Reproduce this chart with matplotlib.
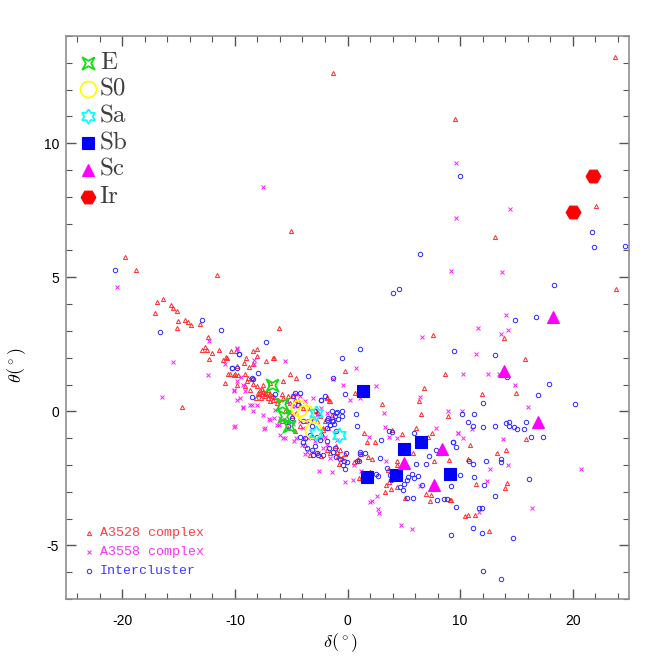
# 은하 형태별 delta-theta 분포
import numpy as np
import matplotlib
matplotlib.use('Agg')
import matplotlib.pyplot as plt
from matplotlib.path import Path
from matplotlib.ticker import MultipleLocator

plt.rcParams['axes.unicode_minus'] = False
plt.rcParams['mathtext.fontset'] = 'cm'

# 배경 점: A3528 complex (delta, theta)
a3528 = [
    (-1.33, 12.62), (-5.03, 6.72), (-19.79, 5.75), (-18.76, 5.27), (-11.6, 5.1), (-16.39, 4.19),
    (9.52, 10.9), (7.63, 2.84), (23.78, 13.22), (22.09, 7.66), (13.13, 6.52), (23.87, 4.56),
    (13.93, 2.72), (15.76, 1.97), (8.63, 1.38), (11.95, 0.66), (14.93, 0.69), (8.96, -0.19),
    (15.85, -1.04), (10.88, -1.25), (13.27, -1.57), (14.07, -1.46), (9.05, -1.81), (10.7, -1.79),
    (11.41, -2.71), (14.2, -2.67), (13.96, -2.87), (9.19, -3.3), (10.41, -3.9), (10.7, -3.86),
    (11.36, -3.87), (12.54, -4.45),
    (6.12, -0.63), (3.96, -0.7), (4.84, -0.84), (2.45, -1.16), (1.69, -1.16), (1.45, -0.81),
    (7.48, -0.82), (7.15, -0.95), (5.82, -1.57), (7.69, -1.87), (4.4, -2.0), (3.6, -2.17),
    (4.4, -2.84), (3.87, -2.91), (3.34, -3.0), (3.46, -2.75), (5.11, -3.22), (6.95, -3.07),
    (7.45, -3.12), (7.36, -3.35), (9.14, -3.29), (1.03, -2.47), (0.56, -1.9), (0.94, -1.77),
    (1.24, -1.6), (1.8, -1.7), (2.22, -1.77), (2.04, -2.25), (3.69, -2.62), (4.43, -1.84),
    (-1.86, -1.44), (-1.57, -1.56), (-0.92, -1.5), (-0.77, -1.97), (-2.37, -1.65), (-3.35, -1.62),
    (-3.79, -1.25), (-3.05, -0.94), (-0.98, -1.31), (-0.18, -1.6),
    (-0.18, 1.52), (6.83, 0.87), (-1.81, 0.52), (-1.66, 0.4), (6.33, 0.37), (3.1, 0.26),
    (6.57, -0.11), (0.65, 0.69), (-0.68, -1.44), (-0.83, -1.65), (-0.53, -1.75),
    (-16.89, 4.07), (-17.07, 3.67), (-15.65, 3.95), (-15.53, 3.85), (-15.12, 3.75), (-15.03, 3.37),
    (-15.12, 3.1), (-14.46, 3.4), (-14.17, 3.34), (-13.88, 3.21), (-13.11, 3.24), (-12.42, 2.76),
    (-12.64, 2.41), (-12.96, 2.29), (-12.46, 2.29), (-12.07, 2.16), (-12.33, 1.94), (-11.45, 2.3),
    (-10.38, 2.24), (-9.05, 1.98), (-8.43, 2.24), (-8.02, 2.32), (-11.09, 1.9), (-10.68, 2.0),
    (-10.8, 2.02), (-9.8, 1.68), (-9.2, 1.79), (-8.78, 1.66), (-8.38, 1.75), (-10.65, 1.4),
    (-10.44, 1.38), (-10.09, 1.35), (-9.7, 1.34), (-10.86, 1.06),
    (-14.73, 0.15), (-6.07, 3.12), (-6.54, 1.98), (-5.12, 1.4), (-4.53, 1.25), (-8.14, 0.48),
    (-7.84, 0.63), (-7.25, 0.63), (-7.49, 0.72), (-8.96, 1.12), (-8.52, 1.19), (-9.11, 0.94),
    (-8.67, 0.81),
    (-6.89, 0.63), (-6.54, 0.52), (-6.16, 0.44), (-5.86, 0.63), (-5.71, 0.48), (-5.27, 0.56),
    (-5.41, 0.37), (-5.12, 0.31), (-4.88, 0.56), (-4.68, 0.44), (-4.38, 0.37), (-4.23, 0.22),
    (-3.94, 0.12), (-3.35, 0.12), (-2.9, 0.06), (-2.61, -0.06), (-2.4, -0.19), (-2.01, -0.37),
    (-1.72, -0.63), (-2.22, -0.69), (-2.75, -0.37),
    (-9.91, 2.25), (-8.02, 2.06), (-7.25, 1.87), (-6.6, 2.0), (-10.0, 1.38), (-9.85, 1.0),
    (-9.11, 1.38), (-8.82, 1.25), (-8.38, 1.02), (-8.07, 0.94), (-7.78, 0.81), (-7.93, 0.69),
    (-7.63, 0.63), (-7.34, 0.56), (-7.05, 0.5), (-6.89, 0.37), (-6.6, 0.44), (-6.3, 0.31),
    (-7.49, 1.0), (-6.89, 1.06), (-6.74, 0.56), (-5.71, 1.12), (-5.56, 0.0), (-4.97, -0.19),
    (-4.53, -0.06), (-5.86, -0.37), (-5.27, -0.63), (-4.68, -0.75), (-4.23, -0.56), (-3.64, -0.37),
    (-1.86, 0.5), (-1.57, 0.37), (-1.42, -0.12), (-2.17, -0.63),
    (-7.6, 0.85), (-7.3, 0.7), (-7.1, 0.8), (-6.95, 0.6), (-7.7, 0.5),
]

# 배경 점: A3558 complex
a3558 = [
    (-7.54, 8.35), (-20.44, 4.64), (9.61, 9.26), (9.61, 7.23), (9.17, 5.25), (11.59, 3.1),
    (6.62, 2.77), (14.4, 7.56), (13.72, 5.21), (14.1, 3.6), (14.25, 3.05),
    (13.63, 2.87), (11.38, 2.12), (10.26, 1.4), (12.51, 1.38), (14.84, 0.97), (16.0, 0.18),
    (8.93, 0.03), (10.17, 0.0), (11.03, -0.65), (9.82, -0.8), (10.26, -0.99), (13.78, -1.02),
    (14.25, -2.0), (20.73, -2.14), (12.63, -2.16), (12.42, -2.61), (11.68, -3.77), (16.42, -3.59),
    (7.84, -0.61), (3.34, -0.57), (4.4, -0.99), (3.73, -0.97), (1.92, -0.97), (9.85, -0.79),
    (2.63, -3.16), (2.16, -3.34), (1.98, -3.38), (2.72, -3.64), (2.83, -3.79), (4.76, -4.25),
    (5.77, -4.4), (6.48, -2.77), (-2.52, -2.22), (-1.42, -2.26), (-0.21, -2.65), (0.5, -2.56),
    (1.21, -2.21), (0.56, -2.0), (3.46, -1.87), (-5.56, -1.0), (-6.07, -0.52), (-7.43, -0.65),
    (-4.74, -1.1), (-3.79, -1.6), (-3.05, -1.5), (-1.57, -1.75), (-0.92, -1.06), (-2.01, -0.94),
    (-6.0, -0.87),
    (0.74, 1.6), (-0.39, 1.0), (-1.28, 1.21), (13.45, 1.38), (2.51, 0.96), (1.09, 0.48),
    (0.2, 0.42), (6.42, 0.52), (3.22, -0.05),
    (-12.28, 2.64), (-15.5, 1.83), (-9.85, 2.34), (-8.29, 1.9), (-10.89, 1.75), (-12.37, 1.36),
    (-9.49, 1.27), (-9.85, 1.12), (-9.32, 0.97), (-10.09, 0.78), (-16.45, 0.52), (-9.8, 0.41),
    (-5.54, 1.87), (-10.06, -0.59), (-6.3, -0.52), (-6.96, -0.27), (-6.54, -0.25), (-9.32, 0.15),
    (-8.49, 0.22), (-8.02, 0.22), (-9.11, 0.74),
    (-4.53, 0.65), (-4.23, 0.56), (-3.79, 0.37), (-4.68, 0.19), (-5.12, -0.06), (-5.65, -0.27),
    (-5.41, -0.44), (-4.83, -0.48), (-4.23, -0.37), (-3.64, -0.37), (-3.19, -0.25), (-2.75, -0.12),
    (-2.31, 0.12), (-1.86, -0.06), (-1.57, -0.25), (-3.94, -0.63), (-3.5, -1.0), (-2.9, -1.12),
    (-2.31, -1.0), (-1.86, -1.25), (-2.17, -1.38), (-2.61, -1.56), (-3.64, -1.5), (-4.08, -1.25),
    (-4.53, -1.0),
    (-9.8, 2.35), (-8.31, 1.75), (-10.09, 0.75), (-9.56, 0.5), (-9.26, 0.12), (-8.67, 0.25),
    (-8.38, 0.0), (-10.0, -0.56), (-7.34, -0.63), (-7.49, -0.12), (-6.89, -0.31), (-6.45, 0.06),
    (-6.0, -0.25), (-5.41, 0.37), (-4.97, 0.19), (-3.05, 0.5), (-5.71, -1.0), (-3.88, -1.0),
]

# 배경 점: Intercluster
inter = [
    (-20.65, 5.26), (6.42, 5.88), (4.05, 4.4), (4.61, 4.56), (9.96, 8.78), (21.68, 6.68),
    (21.85, 6.12), (24.63, 6.18), (18.37, 4.71), (14.84, 3.42), (16.77, 3.53),
    (9.46, 2.25), (13.13, 2.09), (14.13, 1.27), (17.92, 1.02), (16.91, 0.6), (12.0, 0.31),
    (20.17, 0.27), (11.21, -0.11), (10.74, -0.41), (11.12, -0.55), (12.07, -0.6), (14.07, -0.45),
    (14.31, -0.4), (14.34, -0.56), (14.76, -0.6), (15.02, -0.65), (15.64, -0.65), (15.82, -0.39),
    (16.26, -0.95), (17.33, -0.94), (9.4, -1.16), (9.67, -1.32), (10.76, -1.84), (11.18, -1.95),
    (12.27, -1.87), (13.66, -1.76), (13.66, -1.9), (10.03, -2.36), (11.21, -2.45), (9.23, -2.77),
    (12.16, -2.74), (16.12, -2.54), (8.55, -3.27), (8.84, -3.27), (9.64, -3.55), (13.07, -3.15),
    (11.68, -3.6), (11.94, -3.6), (11.12, -4.37), (9.17, -4.61), (11.98, -4.52), (14.7, -4.71),
    (12.03, -5.97), (13.6, -6.27),
    (0.8, -0.55), (5.94, -0.82), (2.98, -1.06), (9.37, -1.15), (7.9, -1.45), (7.24, -1.65),
    (7.01, -1.97), (6.06, -1.97), (5.71, -2.35), (5.88, -2.5), (5.41, -2.45), (5.24, -2.57),
    (5.02, -2.7), (6.27, -2.41), (6.59, -2.75), (4.7, -2.82), (4.94, -2.95), (5.32, -3.25),
    (5.82, -3.22), (7.92, -3.29), (-0.24, -2.15), (0.85, -1.87), (1.03, -1.84), (1.09, -1.6),
    (1.15, -1.5), (1.54, -1.56), (2.51, -2.34), (2.69, -2.41), (2.93, -1.75), (3.75, -2.37),
    (3.9, -2.56), (3.55, -2.12), (-0.98, -1.71), (-0.68, -1.77), (-0.33, -1.87), (-0.03, -1.9),
    (-1.28, -1.5), (-1.63, -1.38), (-1.13, -1.38), (-1.86, -1.12), (-2.46, -1.06), (-2.9, -1.31),
    (-2.17, -1.62), (-2.7, -1.56), (-3.19, -1.46), (-3.64, -1.38), (-3.99, -1.15), (-3.79, -1.0),
    (-4.23, -0.94), (-2.31, -0.87), (-1.57, -0.52), (-1.22, -0.48), (-0.39, -2.0),
    (1.09, 2.34), (-0.51, 2.0), (-3.52, 1.31), (-0.18, 0.63), (-2.34, 0.41), (0.74, -0.1),
    (-0.92, -0.03), (-0.48, 0.0), (-0.48, -0.19), (-0.8, -0.27), (10.17, -0.1), (13.07, -0.56),
    (3.69, -0.72), (3.93, -0.78), (-1.86, -0.31), (-1.42, 0.0), (-1.28, -0.37), (-1.13, -0.19),
    (-0.09, -1.56),
    (-16.65, 2.96), (-12.93, 3.41), (-11.24, 3.05), (-9.65, 2.14), (-10.24, 1.61), (-8.46, 1.25),
    (-8.52, 0.54),
    (-7.28, 2.6), (-8.43, 1.22), (-4.83, 0.56), (-4.38, 0.25), (-4.97, -0.25), (-5.27, -0.56),
    (-3.94, -0.37), (-3.19, -0.56), (-3.35, -0.87), (-2.75, -0.94), (-1.86, -0.63), (-1.57, -0.5),
    (-2.31, 0.44), (-3.05, -1.62), (-2.61, -1.62),
    (-9.62, 2.12), (-10.3, 1.62), (-9.85, 1.62), (-7.93, 1.44), (-6.45, 0.63), (-4.68, 0.69),
    (-4.23, 0.69), (-2.01, 0.56), (-1.28, 1.25), (-1.72, -0.25), (-0.98, -0.06), (-1.42, -0.37),
    (-0.98, -0.75), (-2.9, 0.0), (-3.35, -0.37),
]

# 형태별 은하
gal_E = [(-6.74, 1.0), (-5.86, 0.29), (-5.63, -0.19), (-5.18, -0.56)]
gal_S0 = [(-4.32, 0.11), (-3.79, -0.07), (-3.08, -0.69)]
gal_Sa = [(-2.77, -0.07), (-2.81, -0.82), (-0.73, -0.9)]
gal_Sb = [(1.4, 0.75), (6.57, -1.15), (5.0, -1.41), (1.77, -2.44), (4.35, -2.37), (9.14, -2.34)]
gal_Sc = [(18.26, 3.52), (13.9, 1.5), (16.91, -0.4), (8.41, -1.39), (5.02, -1.94), (7.66, -2.75)]
gal_Ir = [(21.79, 8.78), (20.02, 7.45)]

# 마커 모양 (4각 별, 6각 별)
star4 = Path([(1, 1), (0, 0.45), (-1, 1), (-0.45, 0), (-1, -1), (0, -0.45), (1, -1), (0.45, 0), (1, 1)])
ang = np.deg2rad(90 + 30 * np.arange(12))
rad = np.where(np.arange(12) % 2 == 0, 1.0, 0.577)
star6 = Path(np.column_stack([rad * np.cos(ang), rad * np.sin(ang)]).tolist() + [[0, 1]])

fig = plt.figure(figsize=(6.64, 6.64), dpi=100)
ax = fig.add_axes([66 / 664, 65 / 664, 563 / 664, 563 / 664])

bg_styles = [
    (a3528, 'A3528 complex', dict(marker='^', ms=3.0, mfc='none', mec='#ff2a2a', mew=0.7), '#ff3c3c'),
    (a3558, 'A3558 complex', dict(marker='x', ms=2.6, mec='#ff20ff', mew=0.7), '#ff30ff'),
    (inter, 'Intercluster', dict(marker='o', ms=3.2, mfc='none', mec='#2a2aff', mew=0.7), '#3a3aff'),
]
for pts, lab, st, tc in bg_styles:
    arr = np.array(pts)
    ax.plot(arr[:, 0], arr[:, 1], ls='none', **st)

gal_styles = [
    (gal_E, 'E', dict(marker=star4, ms=8.8, mfc='none', mec='#10e010', mew=1.3)),
    (gal_S0, 'S0', dict(marker='o', ms=11.5, mfc='none', mec='#ffff00', mew=1.3)),
    (gal_Sa, 'Sa', dict(marker=star6, ms=10.5, mfc='none', mec='#00ffff', mew=1.3)),
    (gal_Sb, 'Sb', dict(marker='s', ms=8, mfc='#0000ff', mec='#0000ff', mew=0.8)),
    (gal_Sc, 'Sc', dict(marker='^', ms=9, mfc='#ff00ff', mec='#ff00ff', mew=0.8)),
    (gal_Ir, 'Ir', dict(marker='H', ms=10.6, mfc='#ff0000', mec='#ff0000', mew=0.8)),
]
for pts, lab, st in gal_styles:
    arr = np.array(pts)
    ax.plot(arr[:, 0], arr[:, 1], ls='none', zorder=4, **st)

# 왼쪽 위 범례 (형태)
for i, (pts, lab, st) in enumerate(gal_styles):
    yy = 0.9526 - i * 0.0476
    ax.plot([0.0396], [yy], transform=ax.transAxes, ls='none', clip_on=False, zorder=5, **st)
    ax.text(0.060, yy, lab, transform=ax.transAxes, fontsize=18, family='cmr10',
            color='#404040', va='center', ha='left')

# 왼쪽 아래 범례 (영역)
for i, (pts, lab, st, tc) in enumerate(bg_styles):
    yy = 0.117 - i * 0.0335
    ax.plot([0.041], [yy], transform=ax.transAxes, ls='none', clip_on=False, **st)
    ax.text(0.060, yy, lab, transform=ax.transAxes, fontsize=9.5, family='Liberation Mono',
            color=tc, va='center', ha='left')

ax.set_xlim(-25, 25)
ax.set_ylim(-7, 14)
ax.xaxis.set_major_locator(MultipleLocator(10))
ax.xaxis.set_minor_locator(MultipleLocator(2))
ax.yaxis.set_major_locator(MultipleLocator(5))
ax.yaxis.set_minor_locator(MultipleLocator(1))
ax.tick_params(which='both', direction='in', top=True, right=True, color='#555555')
ax.tick_params(which='major', length=7, width=1.0)
ax.tick_params(which='minor', length=4, width=0.8)
ax.tick_params(axis='x', which='major', pad=11)
ax.tick_params(axis='y', which='major', pad=5)
for lb in ax.get_xticklabels() + ax.get_yticklabels():
    lb.set_family('Liberation Sans')
    lb.set_fontsize(10)
for sp in ax.spines.values():
    sp.set_color('#909090')
    sp.set_linewidth(1.2)

ax.set_xlabel(r'$\delta(^\circ)$', fontsize=13)
ax.set_ylabel(r'$\theta(^\circ)$', fontsize=13)
ax.xaxis.set_label_coords(0.487, -0.057)
ax.yaxis.set_label_coords(-0.068, 0.416)

fig.savefig('out.png', dpi=100)
